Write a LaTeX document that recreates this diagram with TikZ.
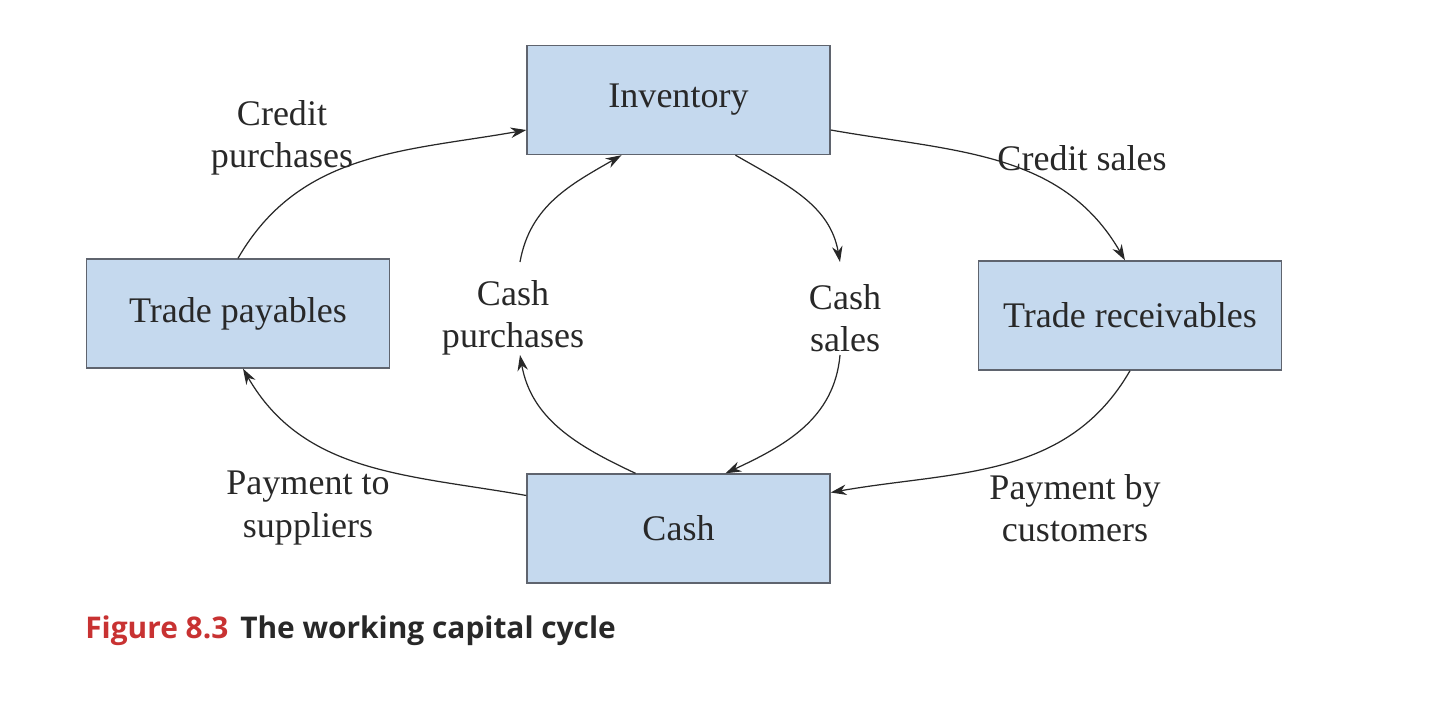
\documentclass[tikz,border=0pt]{standalone}
\usepackage{fontspec}
\setmainfont{Liberation Serif}
\newfontfamily\capfont{Open Sans}
\usetikzlibrary{arrows.meta}
\definecolor{boxfill}{RGB}{197,217,238}
\definecolor{boxline}{RGB}{95,100,110}
\definecolor{figred}{RGB}{200,50,50}
\definecolor{txt}{RGB}{40,40,40}
\begin{document}
\begin{tikzpicture}[x=0.02cm,y=-0.02cm,
  box/.style={draw=boxline,fill=boxfill,line width=0.8pt,minimum width=6.06cm,minimum height=2.18cm,font=\fontsize{20.5}{24}\selectfont,text=txt,inner sep=0pt},
  lab/.style={font=\fontsize{20.5}{24}\selectfont,text=txt,align=center},
  arr/.style={-{Stealth[length=9pt,width=6pt]},draw=txt,line width=0.7pt}]
\useasboundingbox (0,0) rectangle (1440,720);
\node[box] (inv) at (678.5,100) {Inventory};
\node[box] (pay) at (238,313.5) {Trade payables};
\node[box] (rec) at (1130,315.5) {Trade receivables};
\node[box] (cash) at (678.5,528.5) {Cash};
\coordinate (cs1) at (840,262);
\coordinate (cs2) at (840,355);
\coordinate (cp1) at (520,355);
\coordinate (cp2) at (520,262);
\draw[arr] (pay.north) to[out=60,in=190] ([shift={(0,30)}]inv.west);
\draw[arr] ([shift={(0,30)}]inv.east) to[out=-10,in=120] ([shift={(-5,0)}]rec.north);
\draw[arr] (rec.south) to[out=-120,in=10] ([shift={(0,-36)}]cash.east);
\draw[arr] ([shift={(0,-33)}]cash.west) to[out=170,in=-60] ([shift={(5,0)}]pay.south);
\draw[arr] ([shift={(57,0)}]inv.south) to[out=-30,in=100] (cs1);
\draw[arr] (cs2) to[out=-95,in=25] ([shift={(47,0)}]cash.north);
\draw[arr] ([shift={(-43,0)}]cash.north) to[out=155,in=-80] (cp1);
\draw[arr] (cp2) to[out=80,in=-150] ([shift={(-57,0)}]inv.south);
\node[lab] (l1) at (282,138) {Credit\\purchases};
\node[lab] (l2) at (1082,158) {Credit sales};
\node[lab] (l3) at (845,318) {Cash\\sales};
\node[lab] (l4) at (513,318) {Cash\\purchases};
\node[lab] (l5) at (308,508) {Payment to\\suppliers};
\node[lab] (l6) at (1075,508) {Payment by\\customers};
\node[anchor=west,font=\capfont\bfseries\fontsize{17}{20}\selectfont,inner sep=0pt] (cap) at (85,631) {\textcolor{figred}{Figure 8.3}\hspace{0.4em}\textcolor{txt}{The working capital cycle}};
\end{tikzpicture}
\end{document}
